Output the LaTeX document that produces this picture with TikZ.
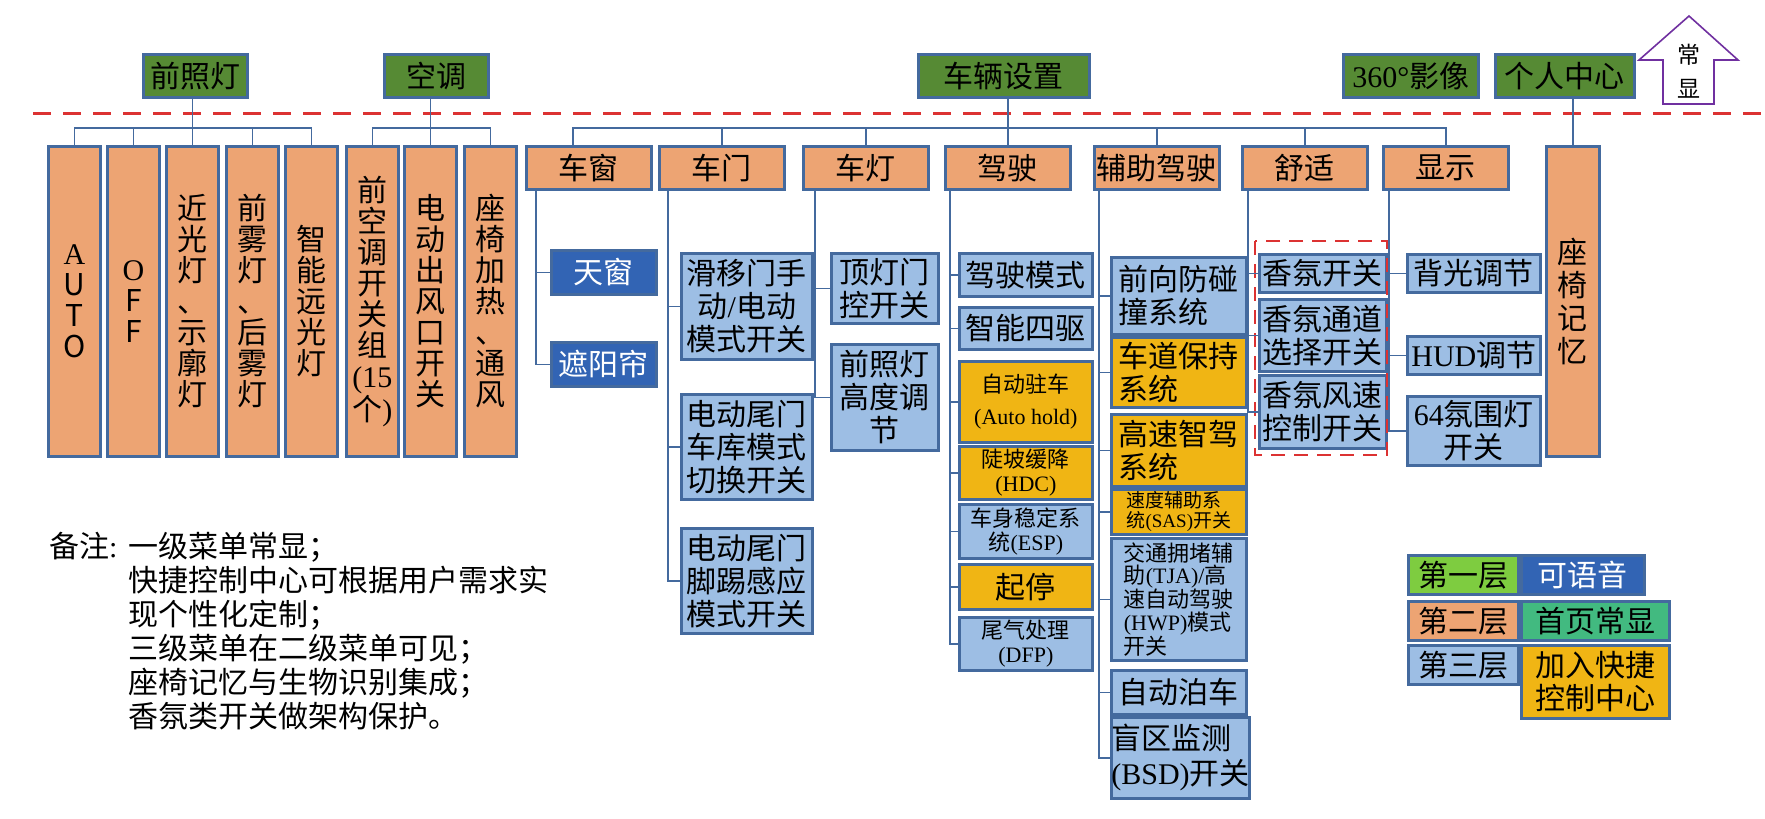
\documentclass[tikz,border=0pt]{standalone}
\usepackage{fontspec}
\setmainfont{Noto Sans CJK SC}
\newfontfamily\lt{Liberation Serif}
\definecolor{bdr}{RGB}{68,106,158}
\definecolor{topgreen}{RGB}{86,138,52}
\definecolor{org}{RGB}{237,164,115}
\definecolor{lblue}{RGB}{157,190,228}
\definecolor{dblue}{RGB}{50,100,180}
\definecolor{gold}{RGB}{240,181,20}
\definecolor{lgreen}{RGB}{126,204,64}
\definecolor{teal}{RGB}{66,186,128}
\definecolor{redd}{RGB}{220,50,50}
\definecolor{purp}{RGB}{112,48,160}

\begin{document}
\begin{tikzpicture}[x=1pt,y=-1pt,
 bx/.style={draw=bdr,line width=2.7pt,inner sep=0pt,anchor=north west,align=center,font=\fontsize{30}{33}\selectfont},
 lvone/.style={bx,fill=topgreen,minimum height=43pt},
 tall/.style={bx,fill=org,minimum width=52pt,minimum height=310pt,font=\fontsize{30}{31}\selectfont},
 lv2/.style={bx,fill=org,minimum width=125pt,minimum height=43pt},
 lv3/.style={bx,fill=lblue},
 gld/.style={bx,fill=gold},
 win/.style={bx,fill=dblue,text=white,minimum width=105pt,minimum height=44pt},
 sm/.style={font=\fontsize{22}{24}\selectfont},
 conn/.style={draw=bdr,line width=1.3pt}]
 \useasboundingbox (0,0) rectangle (1765,819);
 \draw[redd,line width=2.2pt,dash pattern=on 18pt off 12pt] (33,113.5) -- (1765,113.5);
 % first level
 \node[lvone,minimum width=104pt] (qzd) at (142,53) {前照灯};
 \node[lvone,minimum width=104pt] (kt) at (383,53) {空调};
 \node[lvone,minimum width=171pt] (clsz) at (917,53) {车辆设置};
 \node[lvone,minimum width=135pt] (yx) at (1342,53) {{\lt 360°}影像};
 \node[lvone,minimum width=139pt] (grzx) at (1494,53) {个人中心};
 \draw[purp,line width=1.6pt,fill=white] (1689,16) -- (1738,60) -- (1714,60) -- (1714,104) -- (1663,104) -- (1663,60) -- (1639,60) -- cycle;
 \node[inner sep=0pt,align=center,font=\fontsize{23}{34}\selectfont] (cx) at (1689,71) {常\\显};
 % second level
 \node[tall] (auto) at (47,145) {\lt A\\U\\T\\O};
 \node[tall] (off) at (106,145) {\lt O\\F\\F};
 \node[tall] (jgd) at (165,145) {近\\光\\灯\\、\\示\\廓\\灯};
 \node[tall] (qwd) at (225,145) {前\\雾\\灯\\、\\后\\雾\\灯};
 \node[tall] (znyg) at (284,145) {智\\能\\远\\光\\灯};
 \node[tall] (qkt) at (345,145) {前\\空\\调\\开\\关\\组\\{\lt (15}\\个{\lt )}};
 \node[tall] (dccf) at (403,145) {电\\动\\出\\风\\口\\开\\关};
 \node[tall] (zyjr) at (463,145) {座\\椅\\加\\热\\、\\通\\风};
 \node[lv2] (cc) at (525,145) {车窗};
 \node[lv2] (cm) at (658,145) {车门};
 \node[lv2] (cd) at (802,145) {车灯};
 \node[lv2] (js) at (944,145) {驾驶};
 \node[lv2] (fzjs) at (1093,145) {辅助驾驶};
 \node[lv2] (ss) at (1241,145) {舒适};
 \node[lv2] (xs) at (1382,145) {显示};
 \node[tall,minimum width=53pt,font=\fontsize{30}{33}\selectfont] (zyjy) at (1545,145) {座\\椅\\记\\忆};
 % third level
 \node[win] (tc) at (550,249) {天窗};
 \node[win] (zyl) at (550,341) {遮阳帘};
 \node[lv3,minimum width=131pt,minimum height=106pt] (hym) at (680,252) {滑移门手\\动{\lt /}电动\\模式开关};
 \node[lv3,minimum width=131pt,minimum height=105pt] (wmck) at (680,393) {电动尾门\\车库模式\\切换开关};
 \node[lv3,minimum width=131pt,minimum height=105pt] (wmjt) at (680,527) {电动尾门\\脚踢感应\\模式开关};
 \node[lv3,minimum width=107pt,minimum height=70pt] (ddm) at (830,252) {顶灯门\\控开关};
 \node[lv3,minimum width=107pt,minimum height=106pt] (qzdg) at (830,343) {前照灯\\高度调\\节};
 \node[lv3,minimum width=133pt,minimum height=43pt] (jsms) at (958,252) {驾驶模式};
 \node[lv3,minimum width=133pt,minimum height=42pt] (znsq) at (958,306) {智能四驱};
 \node[gld,sm,font=\fontsize{22}{32}\selectfont,minimum width=133pt,minimum height=81pt] (zdzc) at (958,360) {自动驻车\\{\lt (Auto hold)}};
 \node[gld,sm,minimum width=133pt,minimum height=53pt] (dpjj) at (958,445) {陡坡缓降\\{\lt (HDC)}};
 \node[lv3,sm,minimum width=133pt,minimum height=54pt] (esp) at (958,503) {车身稳定系\\统{\lt (ESP)}};
 \node[gld,minimum width=133pt,minimum height=45pt] (qt) at (958,563) {起停};
 \node[lv3,sm,minimum width=133pt,minimum height=53pt] (dfp) at (958,616) {尾气处理\\{\lt (DFP)}};
 \node[lv3,align=left,minimum width=135pt,minimum height=77pt] (qxfp) at (1110,256) {前向防碰\\撞系统};
 \node[gld,align=left,minimum width=135pt,minimum height=70pt] (cdbc) at (1110,336) {车道保持\\系统};
 \node[gld,align=left,minimum width=135pt,minimum height=72pt] (gszj) at (1110,413) {高速智驾\\系统};
 \node[gld,align=left,font=\fontsize{19}{20}\selectfont,minimum width=135pt,minimum height=45pt] (sas) at (1110,488) {速度辅助系\\统{\lt (SAS)}开关};
 \node[lv3,sm,align=left,font=\fontsize{22}{22.5}\selectfont,minimum width=135pt,minimum height=122pt] (tja) at (1110,537) {交通拥堵辅\\助{\lt (TJA)/}高\\速自动驾驶\\{\lt (HWP)}模式\\开关};
 \node[lv3,minimum width=135pt,minimum height=44pt] (zdbc) at (1110,669) {自动泊车};
 \node[lv3,align=left,font=\fontsize{30}{35}\selectfont,minimum width=135pt,minimum height=81pt] (bsd) at (1110,716) {盲区监测\\{\lt (BSD)}开关};
 \node[lv3,minimum width=127pt,minimum height=38pt] (xfkg) at (1258,253) {香氛开关};
 \node[lv3,minimum width=127pt,minimum height=72pt] (xftd) at (1258,298) {香氛通道\\选择开关};
 \node[lv3,minimum width=127pt,minimum height=73pt] (xffs) at (1258,374) {香氛风速\\控制开关};
 \draw[redd,line width=2pt,dash pattern=on 14pt off 9pt] (1255,241) rectangle (1387,455);
 \node[lv3,minimum width=133pt,minimum height=38pt] (bgtj) at (1406,253) {背光调节};
 \node[lv3,minimum width=133pt,minimum height=38pt] (hud) at (1406,335) {{\lt HUD}调节};
 \node[lv3,minimum width=133pt,minimum height=69pt] (fwd) at (1406,395) {{\lt 64}氛围灯\\开关};
 % connectors
 \coordinate (bus) at (0,128);
 \draw[conn] (jgd.north) -- (jgd.north |- qzd.south);
 \draw[conn] (auto.north) |- (znyg.north |- bus) -- (znyg.north);
 \foreach \ch in {off,qwd} \draw[conn] (\ch.north) -- (\ch.north |- bus);
 \draw[conn] (dccf.north) -- (dccf.north |- kt.south);
 \draw[conn] (qkt.north) |- (zyjr.north |- bus) -- (zyjr.north);
 \draw[conn] (js.north) -- (js.north |- clsz.south);
 \draw[conn] ([xshift=-16pt]cc.north) |- (xs.north |- bus) -- (xs.north);
 \foreach \ch in {cm,cd,fzjs,ss} \draw[conn] (\ch.north) -- (\ch.north |- bus);
 \draw[conn] (zyjy.north) -- (zyjy.north |- grzx.south);
 \foreach \ch in {tc,zyl} \draw[conn] ([xshift=11pt]cc.south west) |- (\ch.west);
 \foreach \ch in {hym,wmck,wmjt} \draw[conn] ([xshift=10pt]cm.south west) |- (\ch.west);
 \foreach \ch in {ddm,qzdg} \draw[conn] ([xshift=13pt]cd.south west) |- (\ch.west);
 \foreach \ch in {jsms,znsq,zdzc,dpjj,esp,qt,dfp} \draw[conn] ([xshift=6pt]js.south west) |- (\ch.west);
 \foreach \ch in {qxfp,cdbc,gszj,sas,tja,zdbc,bsd} \draw[conn] ([xshift=6pt]fzjs.south west) |- (\ch.west);
 \foreach \ch in {xfkg,xftd,xffs} \draw[conn] ([xshift=7pt]ss.south west) |- (\ch.west);
 \foreach \ch in {bgtj,hud,fwd} \draw[conn] ([xshift=7pt]xs.south west) |- (\ch.west);
 % legend
 \node[bx,fill=lgreen,minimum width=110pt,minimum height=39pt] (lg1) at (1407,554) {第一层};
 \node[bx,fill=dblue,text=white,minimum width=123pt,minimum height=39pt] (lgy) at (1520,554) {可语音};
 \node[bx,fill=org,minimum width=110pt,minimum height=39pt] (lg2) at (1407,600) {第二层};
 \node[bx,fill=teal,minimum width=148pt,minimum height=39pt] (lgs) at (1520,600) {首页常显};
 \node[bx,fill=lblue,minimum width=110pt,minimum height=39pt] (lg3) at (1407,644) {第三层};
 \node[bx,fill=gold,minimum width=148pt,minimum height=73pt] (lgk) at (1520,644) {加入快捷\\控制中心};
 % remarks
 \node[anchor=north west,inner sep=0pt,font=\fontsize{30}{34}\selectfont] (bz) at (49,532) {备注{\lt :}};
 \node[anchor=north west,inner sep=0pt,align=left,font=\fontsize{30}{34}\selectfont] (bzt) at (128,532) {一级菜单常显；\\快捷控制中心可根据用户需求实\\现个性化定制；\\三级菜单在二级菜单可见；\\座椅记忆与生物识别集成；\\香氛类开关做架构保护。};
\end{tikzpicture}
\end{document}
